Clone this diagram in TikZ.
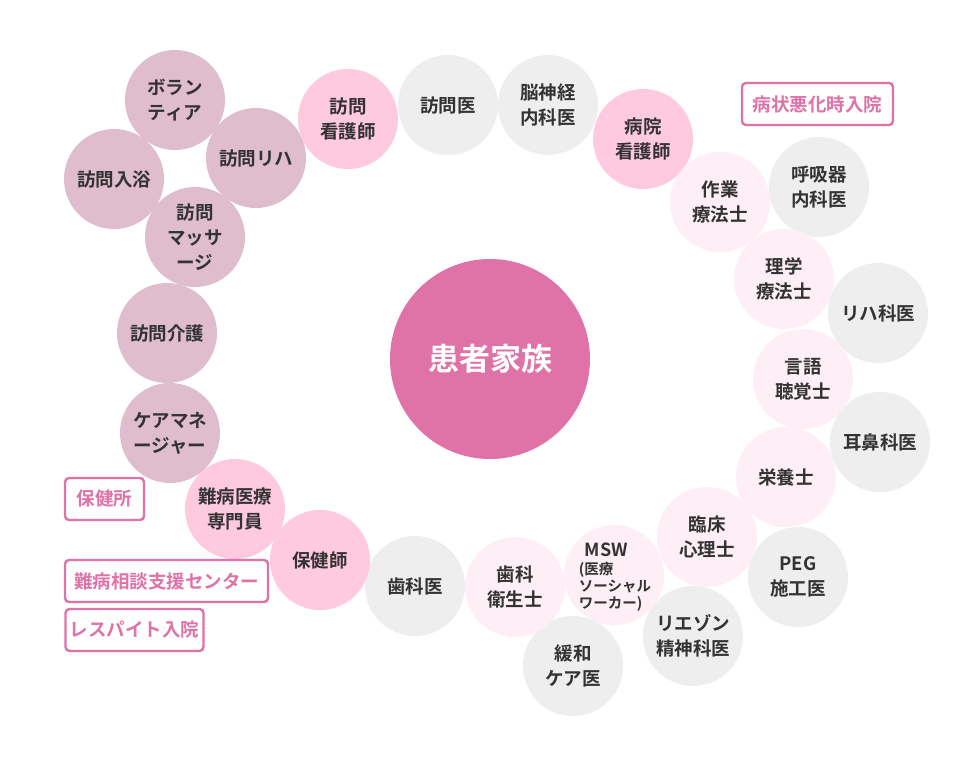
\documentclass[tikz,border=0pt]{standalone}
\usepackage{fontspec}
\setmainfont{Noto Sans CJK JP}[BoldFont={Noto Sans CJK JP Bold}]
\definecolor{cmauve}{HTML}{DFBDCC}
\definecolor{cpink}{HTML}{FFC9E0}
\definecolor{clpink}{HTML}{FEEEF5}
\definecolor{cgray}{HTML}{EEEEEE}
\definecolor{ccenter}{HTML}{DF72A6}
\definecolor{ctext}{HTML}{333333}
\tikzset{
  bub/.style={circle,minimum size=100pt,inner sep=0pt,align=center,text=ctext,
    font=\fontsize{18.5}{25}\selectfont\bfseries},
  mauve/.style={bub,fill=cmauve},
  pinkb/.style={bub,fill=cpink},
  lpink/.style={bub,fill=clpink},
  grayb/.style={bub,fill=cgray},
  tagbox/.style={draw=ccenter,line width=2.4pt,rounded corners=4pt,fill=white,
    text=ccenter,inner sep=0pt,font=\fontsize{18.5}{22}\selectfont\bfseries}
}
\begin{document}
\begin{tikzpicture}[x=1pt,y=-1pt]
\useasboundingbox[fill=white] (0,0) rectangle (980,770);
% centre
\node[circle,minimum size=200pt,inner sep=0pt,fill=ccenter,text=white,
  font=\fontsize{31}{34}\selectfont\bfseries] (center) at (490,359) {患者家族};
% top-left cluster
\node[mauve] (vol) at (175,100) {ボラン\\ティア};
\node[mauve] (bath) at (114,179) {訪問入浴};
\node[mauve] (reha) at (256,158) {訪問リハ};
\node[mauve] (mass) at (195,237) {訪問\\マッサ\\ージ};
\node[mauve] (care) at (167,333) {訪問介護};
\node[mauve] (cm) at (170,433) {ケアマネ\\ージャー};
% top row
\node[pinkb] (vnurse) at (348,119) {訪問\\看護師};
\node[grayb] (vdoc) at (448,105) {訪問医};
\node[grayb] (neuro) at (548,105) {脳神経\\内科医};
\node[pinkb] (hnurse) at (643,139) {病院\\看護師};
% right side
\node[lpink] (ot) at (720,202) {作業\\療法士};
\node[grayb] (resp) at (819,187) {呼吸器\\内科医};
\node[lpink] (pt) at (784,279) {理学\\療法士};
\node[grayb] (rehadoc) at (878,313) {リハ科医};
\node[lpink] (st) at (803,379) {言語\\聴覚士};
\node[grayb] (ent) at (880,442) {耳鼻科医};
\node[lpink] (diet) at (786,477) {栄養士};
\node[lpink] (psy) at (707,537) {臨床\\心理士};
\node[grayb] (peg) at (798,577) {PEG\\施工医};
\node[grayb] (liaison) at (693,636) {リエゾン\\精神科医};
% bottom
\node[lpink] (msw) at (614,575) {};
\node[align=left,inner sep=0pt,text=ctext,font=\fontsize{14.5}{17}\selectfont\bfseries] (mswtext) at (615,577) {\hspace*{6pt}{\fontsize{18}{20}\selectfont MSW}\\[1pt](医療\\ソーシャル\\ワーカー)};
\node[grayb] (pall) at (573,666) {緩和\\ケア医};
\node[lpink] (dh) at (515,587) {歯科\\衛生士};
\node[grayb] (dent) at (415,586) {歯科医};
\node[pinkb] (phn) at (320,560) {保健師};
\node[pinkb] (nanbyo) at (235,509) {難病医療\\専門員};
% tag boxes
\node[tagbox,minimum width=151pt,minimum height=42pt] (acute) at (817.5,104) {病状悪化時入院};
\node[tagbox,minimum width=79pt,minimum height=42pt] (hc) at (104.5,499) {保健所};
\node[tagbox,minimum width=203pt,minimum height=42pt] (center2) at (166.5,581) {難病相談支援センター};
\node[tagbox,minimum width=138pt,minimum height=42pt] (respite) at (134.5,630) {レスパイト入院};
\end{tikzpicture}
\end{document}
